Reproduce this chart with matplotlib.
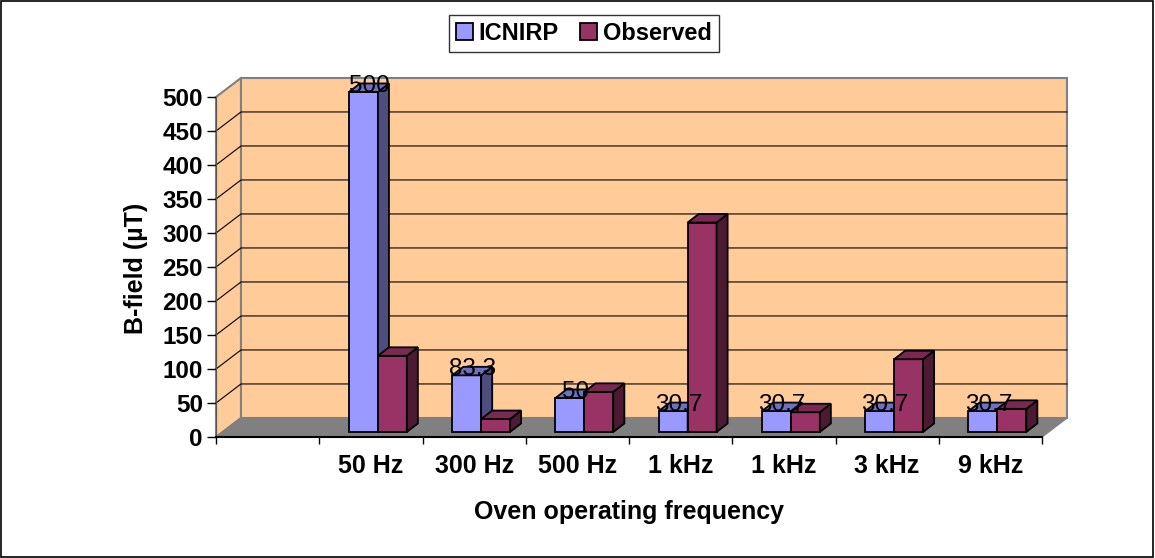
import numpy as np
import matplotlib
matplotlib.use("Agg")
import matplotlib.pyplot as plt
from matplotlib.patches import Polygon, Patch, Rectangle

plt.rcParams['font.family'] = ['Liberation Sans', 'DejaVu Sans']

# data
categories = ["", "50 Hz", "300 Hz", "500 Hz", "1 kHz", "1 kHz", "3 kHz", "9 kHz"]
icnirp = [np.nan, 500, 83.3, 50, 30.7, 30.7, 30.7, 30.7]
observed = [np.nan, 112, 19, 59, 308, 29, 107, 34]
icnirp_labels = ["", "500", "83.3", "50", "30.7", "30.7", "30.7", "30.7"]
yticks = list(range(0, 501, 50))

# 3d look (data units)
wall_dx, wall_dy = 0.242, 28.0      # depth of the walls
bar_dx0, bar_dy0 = 0.068, 7.4       # where bars start in depth
bar_dx, bar_dy = 0.107, 12.5        # depth of a bar
bar_w = 0.28

fig = plt.figure(figsize=(11.55, 5.58), dpi=100)
ax = fig.add_axes([216 / 1155, 121 / 558, 826 / 1155, 340 / 558])
ax.set_xlim(0, len(categories))
ax.set_ylim(0, 500)
ax.patch.set_visible(False)
for s in ["top", "right"]:
    ax.spines[s].set_visible(False)
ax.spines["left"].set_color("#555555")
ax.spines["bottom"].set_linewidth(1.5)

n = len(categories)
wall = "#FFCC99"
edge_gray = "#808080"

# left wall, back wall, floor
ax.add_patch(Polygon([(0, 0), (wall_dx, wall_dy), (wall_dx, 500 + wall_dy), (0, 500)],
                     closed=True, fc=wall, ec=edge_gray, lw=1.5, zorder=0, clip_on=False))
ax.add_patch(Polygon([(wall_dx, wall_dy), (n + wall_dx, wall_dy), (n + wall_dx, 500 + wall_dy),
                      (wall_dx, 500 + wall_dy)],
                     closed=True, fc=wall, ec=edge_gray, lw=1.5, zorder=0, clip_on=False))
ax.add_patch(Polygon([(0, 0), (n, 0), (n + wall_dx, wall_dy), (wall_dx, wall_dy)],
                     closed=True, fc=edge_gray, ec=edge_gray, lw=1, zorder=0.5, clip_on=False))

# gridlines on both walls
for v in yticks[1:-1]:
    ax.plot([0, wall_dx, n + wall_dx], [v, v + wall_dy, v + wall_dy], color="black",
            lw=0.8, zorder=0.6, clip_on=False)


def bars3d(xs, vals, front, top, side, z):
    bars = ax.bar(xs, vals, width=bar_w, bottom=bar_dy0, align="edge", color=front,
                  edgecolor="black", linewidth=1.3, zorder=z)
    for b in bars:
        b.set_clip_on(False)
    for x, v in zip(xs, vals):
        if np.isnan(v):
            continue
        y0, y1 = bar_dy0, bar_dy0 + v
        ax.add_patch(Polygon([(x + bar_w, y0), (x + bar_w + bar_dx, y0 + bar_dy),
                              (x + bar_w + bar_dx, y1 + bar_dy), (x + bar_w, y1)],
                             closed=True, fc=side, ec="black", lw=1.3, zorder=z, clip_on=False))
        ax.add_patch(Polygon([(x, y1), (x + bar_w, y1), (x + bar_w + bar_dx, y1 + bar_dy),
                              (x + bar_dx, y1 + bar_dy)],
                             closed=True, fc=top, ec="black", lw=1.3, zorder=z, clip_on=False))


idx = np.arange(n)
split = idx + 0.5 + bar_dx0
bars3d(split - bar_w, icnirp, "#9999FF", "#7070C0", "#4D4D80", 3)
bars3d(split, observed, "#993366", "#7A2952", "#4D1A33", 4)

for x, v, lab in zip(split - bar_w, icnirp, icnirp_labels):
    if lab:
        ax.text(x + bar_w / 2 + bar_dx / 2, v + bar_dy0, lab, ha="center", va="baseline",
                fontsize=17.5, color="black", zorder=10)

# axes ticks
ax.set_yticks(yticks)
ax.set_yticklabels([str(t) for t in yticks], fontsize=17.5, fontweight="bold")
ax.tick_params(axis="y", length=6.5, width=1, pad=3)
ax.set_xticks(np.arange(n + 1))
ax.set_xticklabels([])
ax.set_xticks(idx + 0.5, minor=True)
ax.set_xticklabels(categories, minor=True, fontsize=18, fontweight="bold")
ax.tick_params(axis="x", which="major", length=5, width=1)
ax.tick_params(axis="x", which="minor", length=0, pad=12)

fig.text(136 / 1155, 1 - 268 / 558, "B-field (µT)", rotation=90, ha="center", va="center",
         fontsize=18, fontweight="bold")
fig.text(629 / 1155, 1 - 512 / 558, "Oven operating frequency", ha="center", va="center",
         fontsize=18, fontweight="bold")

handles = [Patch(fc="#9999FF", ec="black", lw=1.3, label="ICNIRP"),
           Patch(fc="#993366", ec="black", lw=1.3, label="Observed")]
leg = fig.legend(handles=handles, loc="center", bbox_to_anchor=(584 / 1155, 1 - 33.5 / 558),
                 ncol=2, frameon=True, fancybox=False, edgecolor="black",
                 prop={"weight": "bold", "size": 17}, handlelength=0.7, handleheight=0.7,
                 handletextpad=0.25, columnspacing=0.9, borderpad=0.3)
leg.get_frame().set_linewidth(1)

fig.add_artist(Rectangle((0.0005, 0.001), 0.998, 0.997, transform=fig.transFigure, fill=False,
                         ec="black", lw=1.2))

fig.savefig("out.png", dpi=100)
